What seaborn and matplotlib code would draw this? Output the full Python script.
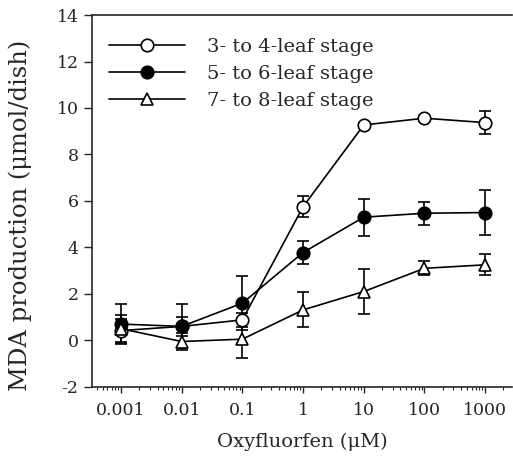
import numpy as np
import pandas as pd
import matplotlib
matplotlib.use('Agg')
import matplotlib.pyplot as plt
import seaborn as sns

# Data
conc = [0.001, 0.01, 0.1, 1, 10, 100, 1000]
stage_34 = [0.42, 0.6, 0.88, 5.75, 9.27, 9.56, 9.37]
stage_34_err = [0.5, 0.4, 0.3, 0.45, 0.1, 0.1, 0.5]
stage_56 = [0.7, 0.6, 1.6, 3.78, 5.3, 5.47, 5.5]
stage_56_err = [0.85, 0.95, 1.15, 0.5, 0.8, 0.5, 0.95]
stage_78 = [0.5, -0.05, 0.05, 1.31, 2.1, 3.1, 3.25]
stage_78_err = [0.6, 0.35, 0.8, 0.75, 0.95, 0.3, 0.45]
labels = ['3- to 4-leaf stage', '5- to 6-leaf stage', '7- to 8-leaf stage']

sns.set_style('ticks')
plt.rcParams['font.family'] = ['DejaVu Serif']
plt.rcParams['axes.unicode_minus'] = False

fig = plt.figure(figsize=(5.13, 4.70), dpi=100)
ax = fig.add_axes([0.179, 0.177, 0.82, 0.791])

series = [
    (stage_34, stage_34_err, 'o', 'white', 9, labels[0]),
    (stage_56, stage_56_err, 'o', 'black', 9, labels[1]),
    (stage_78, stage_78_err, '^', 'white', 8, labels[2]),
]
for vals, errs, mk, fc, ms, lab in series:
    df = pd.DataFrame({'conc': conc, 'mda': vals})
    ax.errorbar(conc, vals, yerr=errs, fmt='none', ecolor='black',
                elinewidth=1.2, capsize=4, capthick=1.2, zorder=2)
    sns.lineplot(data=df, x='conc', y='mda', ax=ax, color='black',
                 linewidth=1.2, marker=mk, markersize=ms,
                 markerfacecolor=fc, markeredgecolor='black',
                 markeredgewidth=1.2, label=lab, zorder=3)

ax.set_xscale('log')
ax.set_xlim(10 ** -3.48, 10 ** 3.45)
ax.set_ylim(-2, 14)
ax.set_xticks(conc)
ax.set_xticklabels(['0.001', '0.01', '0.1', '1', '10', '100', '1000'])
ax.set_yticks(range(-2, 15, 2))
ax.tick_params(axis='both', labelsize=12.5, direction='out', width=1)
ax.tick_params(axis='y', length=6)
ax.tick_params(axis='x', length=4, pad=7)
ax.tick_params(axis='x', which='minor', length=2.5, width=0.8)
ax.set_xlabel('Oxyfluorfen (\u03bcM)', fontsize=14, labelpad=10)
ax.set_ylabel('MDA production (\u03bcmol/dish)', fontsize=17.5)
ax.yaxis.set_label_coords(-0.143, 0.46)
ax.spines['right'].set_visible(False)
for s in ['left', 'bottom', 'top']:
    ax.spines[s].set_linewidth(1.2)

ax.legend(loc='upper left', frameon=False, fontsize=14, handlelength=3.9,
          handletextpad=1.1, labelspacing=0.45, bbox_to_anchor=(0.0, 0.985))

plt.savefig('out.png', dpi=100)
